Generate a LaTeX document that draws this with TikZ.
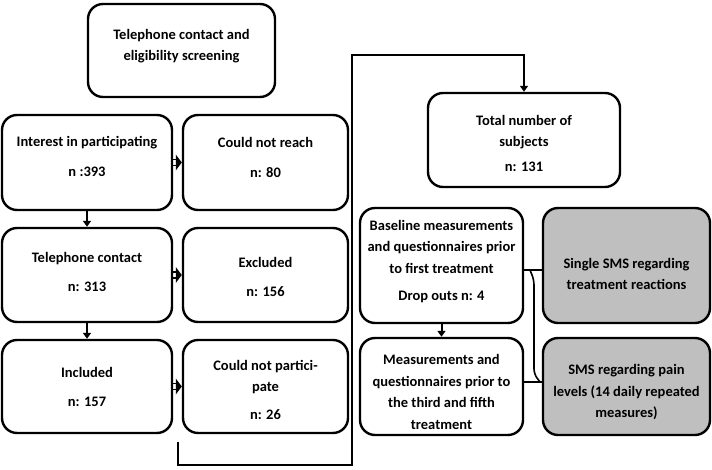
\documentclass[tikz,border=0pt]{standalone}
\usepackage{fontspec}
\setmainfont{Carlito}
\usetikzlibrary{arrows.meta,calc}
\begin{document}
\begin{tikzpicture}[x=1pt,y=-1pt,
  box/.style={draw, line width=2.4pt, rounded corners=15pt, fill=white, inner sep=0pt},
  gbox/.style={box, fill=gray!50},
  txt/.style={align=center, font=\bfseries\fontsize{14.5}{21.5}\selectfont, inner sep=0pt},
  arr/.style={line width=2pt, -{Triangle[length=6pt,width=8pt]}},
  dl/.style={line width=1.6pt},
  conn/.style={line width=2pt}
]
\useasboundingbox (0,0) rectangle (712,470);
\node[box, minimum width=187pt, minimum height=93pt] (top) at (181.5,50.5) {};
\node[box, minimum width=170pt, minimum height=95pt] (interest) at (87,162.5) {};
\node[box, minimum width=165pt, minimum height=95pt] (reach) at (265.5,162.5) {};
\node[box, minimum width=170pt, minimum height=94pt] (tel) at (87,275) {};
\node[box, minimum width=165pt, minimum height=94pt] (excl) at (265.5,275) {};
\node[box, minimum width=170pt, minimum height=93pt] (incl) at (87,386.5) {};
\node[box, minimum width=165pt, minimum height=93pt] (cnp) at (265.5,386.5) {};
\node[box, minimum width=192pt, minimum height=94pt] (total) at (524,140) {};
\node[box, minimum width=163pt, minimum height=115pt] (base) at (441.5,265.5) {};
\node[gbox, minimum width=167pt, minimum height=115pt] (single) at (626.5,265.5) {};
\node[box, minimum width=163pt, minimum height=97pt] (meas) at (441.5,386.5) {};
\node[gbox, minimum width=167pt, minimum height=97pt] (pain) at (626.5,386.5) {};

\node[txt] (top-t) at ($(top.center)+(0,-4.5)$) {Telephone contact and\\eligibility screening};
\node[txt] (interest-t) at ($(interest.center)+(0,-6)$) {Interest in participating\\[8pt]n :393};
\node[txt] (reach-t) at ($(reach.center)+(0,-5)$) {Could not reach\\[8pt]n: 80};
\node[txt] (tel-t) at ($(tel.center)+(0,-3)$) {Telephone contact\\[8pt]n: 313};
\node[txt] (excl-t) at ($(excl.center)+(0,2)$) {Excluded\\[8pt]n: 156};
\node[txt] (incl-t) at ($(incl.center)+(0,0.5)$) {Included\\[8pt]n: 157};
\node[txt] (cnp-t) at ($(cnp.center)+(0,3)$) {Could not partici-\\pate\\[6pt]n: 26};
\node[txt] (total-t) at ($(total.center)+(0,3)$) {Total number of\\subjects\\[3pt]n: 131};
\node[txt] (base-t) at ($(base.center)+(0,-4)$) {Baseline measurements\\and questionnaires prior\\to first treatment\\[5.5pt]Drop outs n: 4};
\node[txt] (single-t) at ($(single.center)+(0,8.5)$) {Single SMS regarding\\treatment reactions};
\node[txt] (meas-t) at ($(meas.center)+(0,5.5)$) {Measurements and\\questionnaires prior to\\the third and fifth\\treatment};
\node[txt] (pain-t) at ($(pain.center)+(0,6)$) {SMS regarding pain\\levels (14 daily repeated\\measures)};

\draw[arr] (interest.south) -- (tel.north);
\draw[arr] (tel.south) -- (incl.north);
\draw[arr] (base.south) -- (meas.north);

\foreach \a/\b in {interest/reach, tel/excl, incl/cnp}{
  \draw[dl] ([yshift=3pt]\a.east) -- ([yshift=3pt,xshift=-5pt]\b.west);
  \draw[dl] ([yshift=-3pt]\a.east) -- ([yshift=-3pt,xshift=-5pt]\b.west);
  \fill ([xshift=-6pt,yshift=8pt]\b.west) -- (\b.west) -- ([xshift=-6pt,yshift=-8pt]\b.west) -- cycle;
}

\coordinate (s) at (178,442);
\draw[arr] (s) -- ++(0,23) -| (352,55) -| (total.north);

\coordinate (j1) at (0,270);
\coordinate (j2) at (0,382);
\draw[conn] (base.east |- j1) -- (single.west |- j1);
\draw[conn] (meas.east |- j2) -- (pain.west |- j2);
\coordinate (b1) at (530,270);
\coordinate (b2) at (540,382);
\draw[line width=1.6pt, rounded corners=5pt] (b1) -- (534,280) -- (534,374) -- (b2);
\end{tikzpicture}
\end{document}
